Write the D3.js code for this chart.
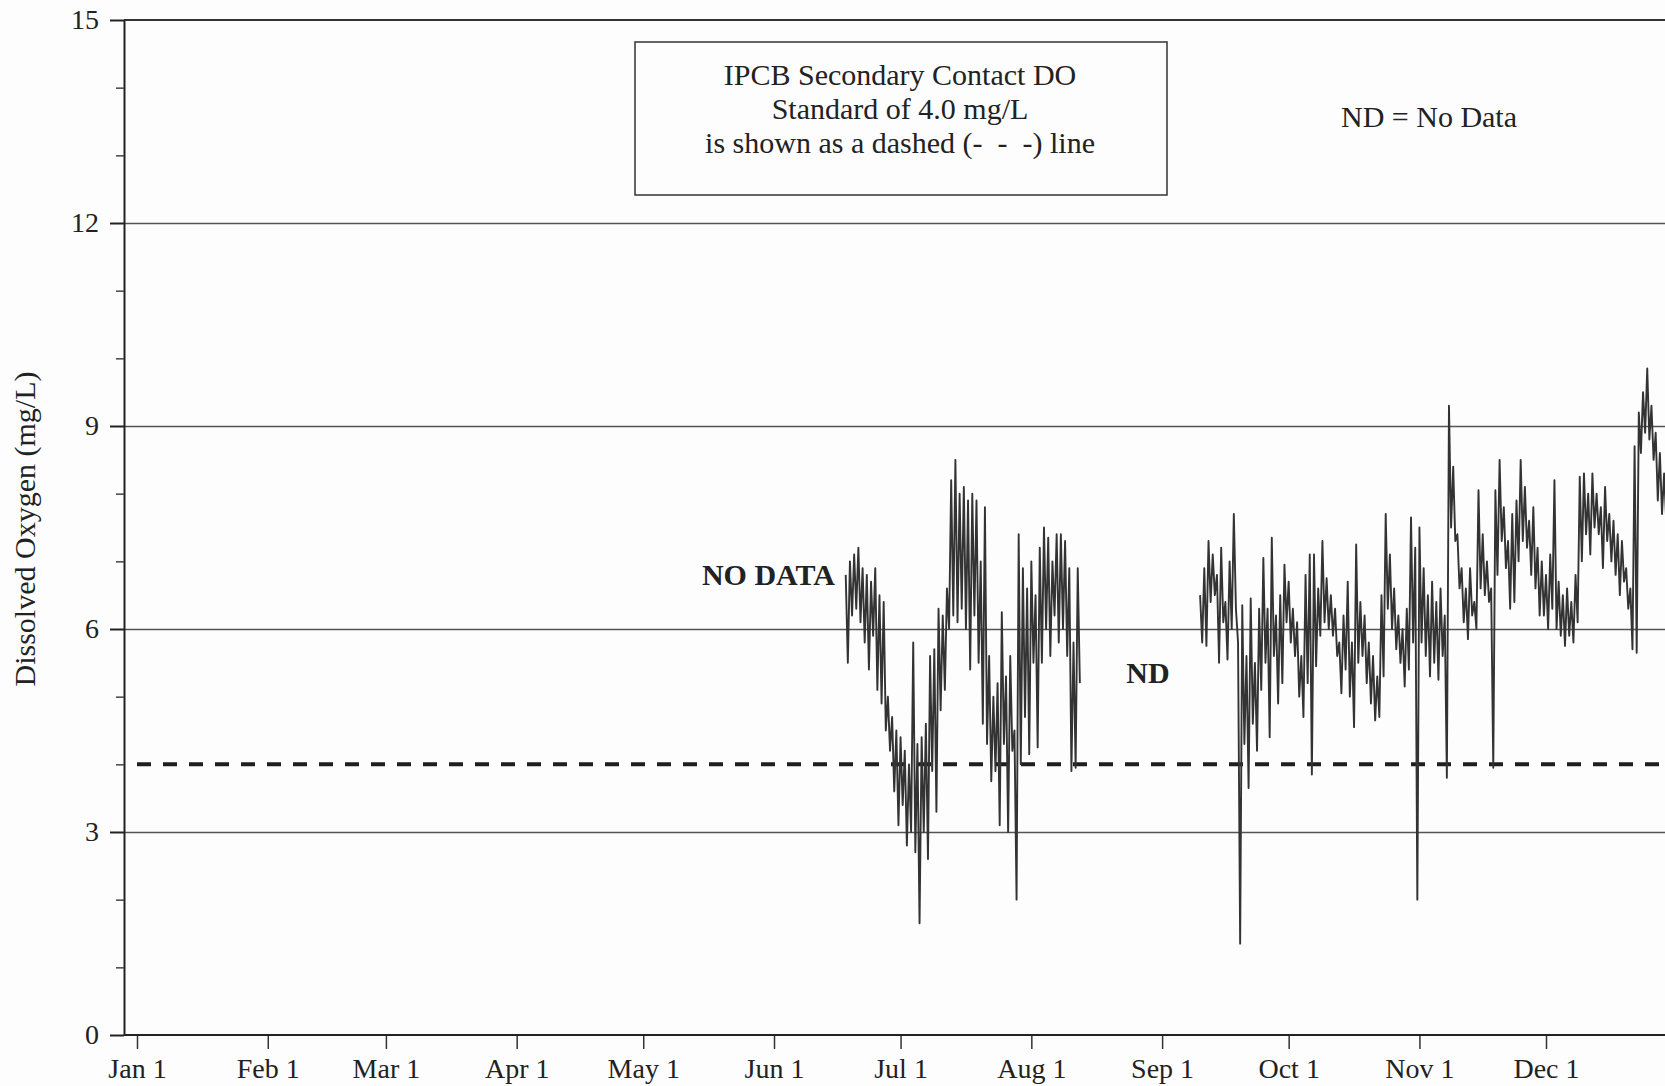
<!DOCTYPE html>
<html>
<head>
<meta charset="utf-8">
<script src="https://cdnjs.cloudflare.com/ajax/libs/d3/7.8.5/d3.min.js"></script>
<style>
  body { margin: 0; background: #fdfdfd; }
  svg { display: block; font-family: "Liberation Serif", "DejaVu Serif", serif; }
</style>
</head>
<body>
<svg id="chart" width="1665" height="1086"></svg>
<script>
// month ticks along the bottom
const monthTicks = ["2001-01-01", "2001-02-01", "2001-03-01", "2001-04-01", "2001-05-01", "2001-06-01",
  "2001-07-01", "2001-08-01", "2001-09-01", "2001-10-01", "2001-11-01", "2001-12-01"];
const monthLabels = ["Jan 1", "Feb 1", "Mar 1", "Apr 1", "May 1", "Jun 1",
  "Jul 1", "Aug 1", "Sep 1", "Oct 1", "Nov 1", "Dec 1"];

const yMajor = [0, 3, 6, 9, 12, 15];
const yMinor = [1, 2, 4, 5, 7, 8, 10, 11, 13, 14];
const gridValues = [3, 6, 9, 12];
const doStandard = 4.0;
const standardSpan = ["2001-01-01", "2002-01-01"];

// DO readings, one every 12 hours
const stepHours = 12;
const seg1Start = "2001-06-18";
const seg1Values = [
  6.8, 5.5, 7.0, 6.2, 7.1, 6.3, 7.2, 6.1, 6.9, 5.8, 6.8, 5.4, 6.7, 5.9, 6.9, 5.1,
  6.5, 4.9, 6.4, 4.5, 5.0, 4.2, 4.7, 3.6, 4.5, 3.1, 4.4, 3.4, 4.2, 2.8, 4.0, 3.0,
  5.8, 2.7, 4.3, 1.65, 4.4, 3.0, 4.6, 2.6, 5.6, 3.9, 5.7, 3.3, 6.3, 4.8, 6.2, 5.1,
  6.6, 6.0, 8.2, 6.2, 8.5, 6.1, 8.0, 6.3, 8.1, 6.0, 7.9, 5.4, 8.0, 6.2, 7.9, 5.5,
  7.0, 4.6, 7.8, 4.3, 5.6, 3.75, 5.0, 3.9, 5.2, 3.1, 6.25, 4.3, 5.3, 3.0, 5.6, 4.2,
  4.5, 2.0, 7.4, 4.0, 6.9, 4.7, 6.6, 4.15, 7.0, 5.5, 6.5, 4.25, 7.2, 5.5, 7.5, 6.0,
  7.35, 5.6, 7.0, 6.2, 7.4, 5.8, 7.4, 6.0, 7.3, 5.6, 6.9, 3.9, 5.8, 3.95, 6.9, 5.2
];
const seg2Start = "2001-09-10";
const seg2Values = [
  6.5, 5.8, 6.9, 5.75, 7.3, 6.4, 7.1, 6.5, 6.8, 5.5, 7.2, 6.1, 6.4, 5.55, 7.0, 6.0,
  7.7, 6.3, 5.8, 1.35, 6.35, 4.3, 5.6, 3.65, 6.45, 4.6, 5.5, 4.2, 6.3, 5.1, 7.05, 5.5,
  6.3, 4.4, 7.35, 5.6, 6.2, 4.9, 6.5, 5.2, 6.95, 6.1, 6.7, 5.8, 6.3, 5.6, 6.1, 5.0,
  5.6, 4.7, 6.8, 5.2, 7.1, 3.85, 7.1, 5.45, 6.6, 5.9, 7.3, 6.1, 6.75, 6.0, 6.5, 5.9,
  6.3, 5.6, 5.8, 5.05, 6.2, 5.4, 6.7, 5.0, 5.8, 4.55, 7.25, 5.5, 6.4, 5.6, 6.2, 5.2,
  5.8, 4.9, 5.6, 4.65, 5.3, 4.7, 6.5, 5.3, 7.7, 6.3, 7.1, 6.0, 6.6, 5.7, 6.2, 5.5,
  6.0, 5.15, 6.3, 5.4, 7.65, 5.8, 7.2, 2.0, 7.5, 5.8, 6.9, 5.6, 6.5, 5.3, 6.7, 5.5,
  6.4, 5.25, 6.6, 5.6, 6.2, 3.8, 9.3, 7.5, 8.4, 7.3, 7.4, 6.6, 6.9, 6.1, 6.6, 5.85,
  6.9, 6.2, 6.4, 6.0, 8.05, 6.6, 7.4, 6.5, 7.0, 6.4, 6.6, 3.95, 8.05, 6.8, 8.5, 7.3,
  7.8, 6.9, 7.3, 6.3, 7.7, 6.4, 7.9, 7.0, 8.5, 7.3, 8.1, 7.2, 7.6, 6.8, 7.8, 6.6,
  7.2, 6.2, 7.0, 6.2, 6.8, 6.0, 7.1, 6.3, 8.2, 6.0, 6.7, 5.9, 6.5, 5.75, 6.6, 5.9,
  6.4, 5.8, 6.8, 6.1, 8.25, 7.0, 8.3, 7.4, 8.0, 7.1, 8.3, 7.5, 8.0, 7.4, 7.8, 6.9,
  8.1, 7.3, 7.7, 7.0, 7.6, 6.8, 7.4, 6.5, 7.3, 6.7, 6.9, 6.3, 6.6, 5.7, 8.7, 5.65,
  9.2, 8.6, 9.5, 8.9, 9.85, 8.8, 9.3, 8.5, 8.9, 7.9, 8.6, 7.7, 8.3, 7.6
];

const boxLines = ["IPCB Secondary Contact DO", "Standard of 4.0 mg/L", "is shown as a dashed (-  -  -) line"];

const parseDate = d3.timeParse("%Y-%m-%d");
const toSeries = (start, values) => values.map((v, i) => ({
  date: d3.timeHour.offset(parseDate(start), i * stepHours),
  value: v
}));
const series = [toSeries(seg1Start, seg1Values), toSeries(seg2Start, seg2Values)];

const W = 1665;
const axisX = 124;

const svg = d3.select("#chart");

const x = d3.scaleTime()
  .domain([parseDate(monthTicks[0]), parseDate(monthTicks[11])])
  .range([137, 1546]);

const y = d3.scaleLinear()
  .domain([0, 15])
  .range([1035, 20]);

// horizontal grid
const grid = svg.append("g")
  .attr("transform", `translate(${axisX},0)`)
  .call(d3.axisLeft(y).tickValues(gridValues).tickSize(-(W - axisX)).tickFormat(""));
grid.select(".domain").remove();
grid.selectAll("line").attr("stroke", "#555").attr("stroke-width", 1.5);

// top border
svg.append("line")
  .attr("x1", axisX).attr("x2", W)
  .attr("y1", y(15)).attr("y2", y(15))
  .attr("stroke", "#333").attr("stroke-width", 1.8);

// y axis
const yAxis = svg.append("g")
  .attr("transform", `translate(${axisX},0)`)
  .call(d3.axisLeft(y).tickValues(yMajor).tickSize(14).tickPadding(11).tickSizeOuter(0).tickFormat(d3.format("d")));
yAxis.select(".domain").attr("stroke", "#222").attr("stroke-width", 2);
yAxis.selectAll("line").attr("stroke", "#222").attr("stroke-width", 2);
yAxis.selectAll("text").attr("font-size", 28).attr("fill", "#222")
  .attr("font-family", "Liberation Serif, serif");

const yMinorAxis = svg.append("g")
  .attr("transform", `translate(${axisX},0)`)
  .call(d3.axisLeft(y).tickValues(yMinor).tickSize(8).tickFormat(""));
yMinorAxis.select(".domain").remove();
yMinorAxis.selectAll("line").attr("stroke", "#444").attr("stroke-width", 1.5);

// x axis
const xAxis = svg.append("g")
  .attr("transform", `translate(0,${y(0)})`)
  .call(d3.axisBottom(x)
    .tickValues(monthTicks.map(parseDate))
    .tickFormat((d, i) => monthLabels[i])
    .tickSize(14).tickPadding(9).tickSizeOuter(0));
xAxis.select(".domain").remove();
xAxis.selectAll("line").attr("stroke", "#333").attr("stroke-width", 1.5);
xAxis.selectAll("text").attr("font-size", 28).attr("fill", "#222")
  .attr("font-family", "Liberation Serif, serif");

svg.append("line")
  .attr("x1", axisX).attr("x2", W)
  .attr("y1", y(0)).attr("y2", y(0))
  .attr("stroke", "#222").attr("stroke-width", 2.2);

// standard line
const line = d3.line()
  .x(d => x(d.date))
  .y(d => y(d.value));

svg.append("path")
  .datum(standardSpan.map(s => ({date: parseDate(s), value: doStandard})))
  .attr("fill", "none")
  .attr("stroke", "#1e1e1e")
  .attr("stroke-width", 4)
  .attr("stroke-dasharray", "14 12")
  .attr("d", line);

// DO record
series.forEach(s => {
  svg.append("path")
    .datum(s)
    .attr("fill", "none")
    .attr("stroke", "#333")
    .attr("stroke-width", 1.9)
    .attr("stroke-linejoin", "round")
    .attr("d", line);
});

// y label
svg.append("text")
  .attr("transform", "translate(35,529) rotate(-90)")
  .attr("text-anchor", "middle")
  .attr("font-size", 30)
  .attr("fill", "#222")
  .text("Dissolved Oxygen (mg/L)");

// note box
svg.append("rect")
  .attr("x", 635).attr("y", 42)
  .attr("width", 532).attr("height", 153)
  .attr("fill", "none")
  .attr("stroke", "#333")
  .attr("stroke-width", 1.5);

svg.selectAll(".boxline")
  .data(boxLines)
  .join("text")
  .attr("class", "boxline")
  .attr("x", 900)
  .attr("y", (d, i) => 85 + i * 34)
  .attr("text-anchor", "middle")
  .attr("font-size", 30)
  .attr("fill", "#222")
  .attr("xml:space", "preserve")
  .style("white-space", "pre")
  .text(d => d);

svg.append("text")
  .attr("x", 1429).attr("y", 127)
  .attr("text-anchor", "middle")
  .attr("font-size", 30)
  .attr("fill", "#222")
  .text("ND = No Data");

svg.append("text")
  .attr("x", 835).attr("y", 585)
  .attr("text-anchor", "end")
  .attr("font-size", 30)
  .attr("font-weight", "bold")
  .attr("fill", "#222")
  .text("NO DATA");

svg.append("text")
  .attr("x", 1148).attr("y", 683)
  .attr("text-anchor", "middle")
  .attr("font-size", 30)
  .attr("font-weight", "bold")
  .attr("fill", "#222")
  .text("ND");
</script>
</body>
</html>
